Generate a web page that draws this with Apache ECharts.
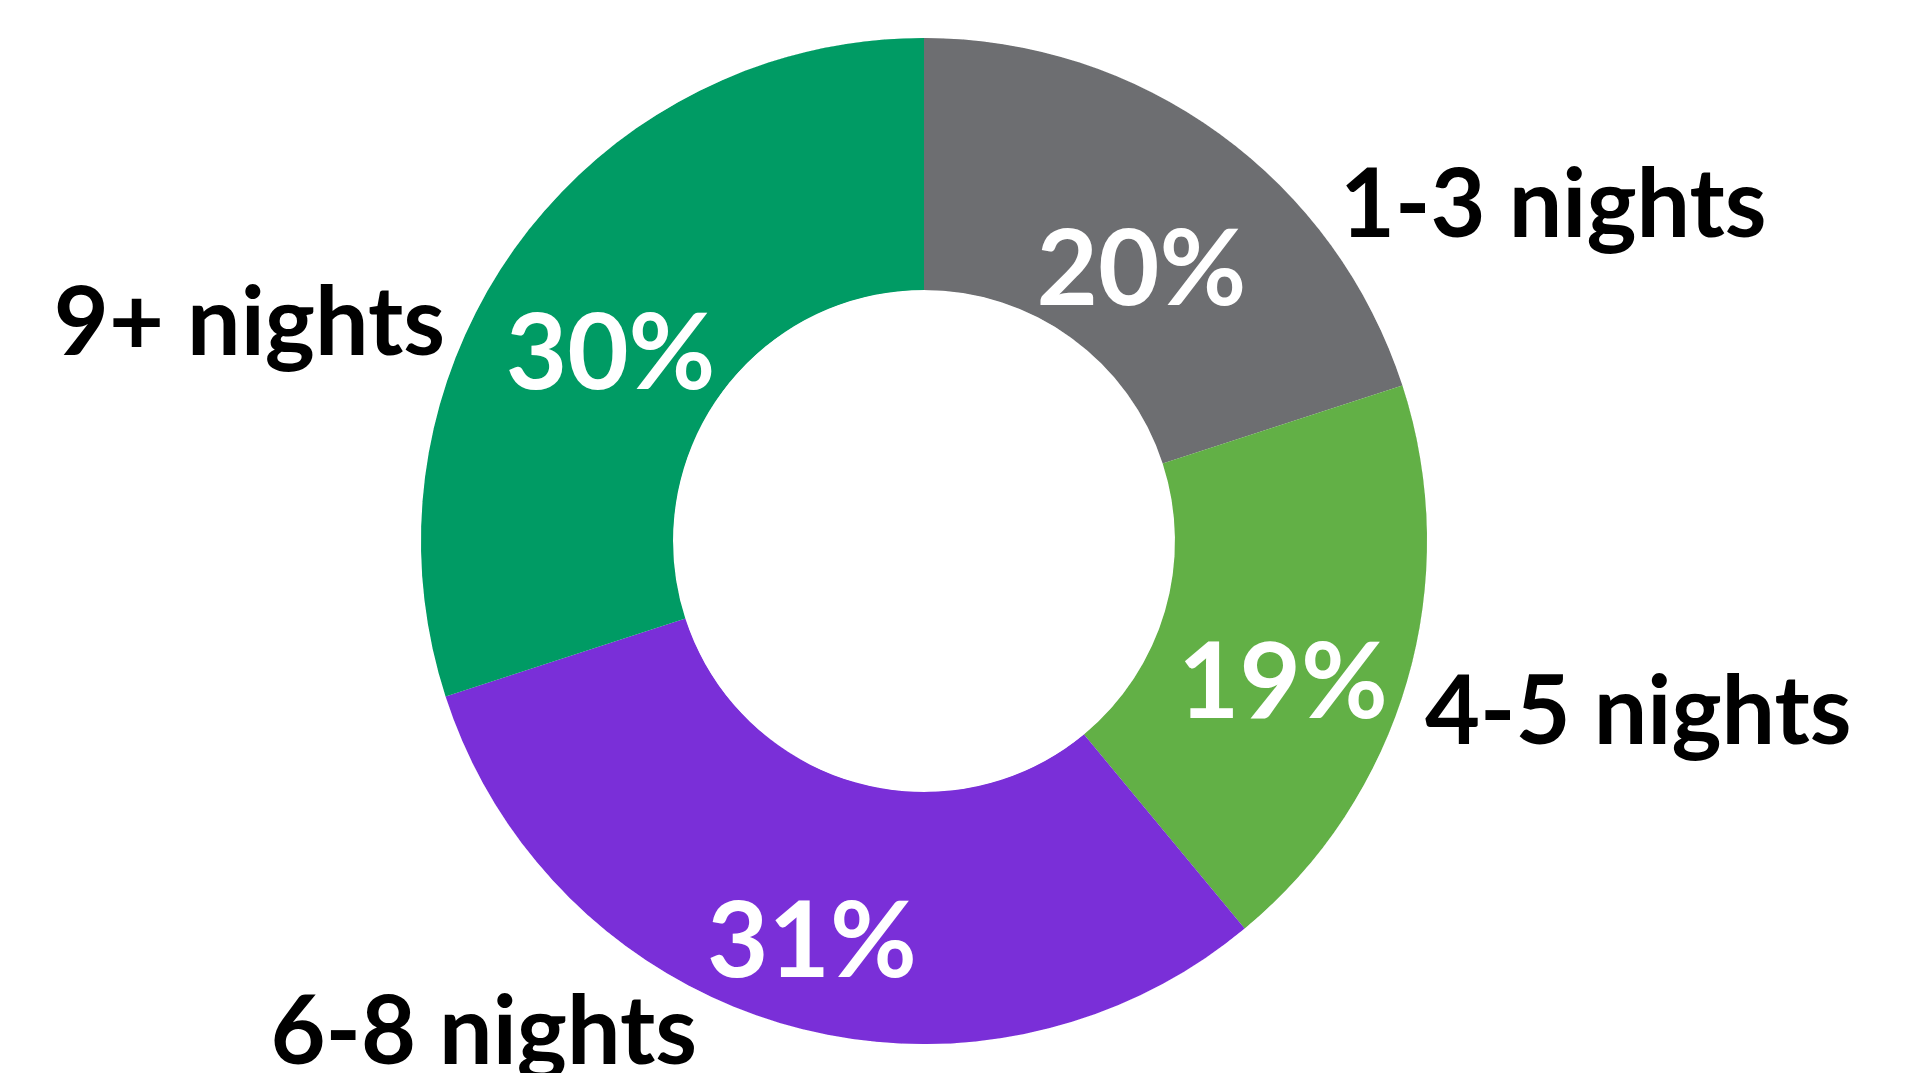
<!DOCTYPE html>
<html>
<head>
<meta charset="utf-8">
<script src="https://cdn.jsdelivr.net/npm/echarts@6/dist/echarts.min.js"></script>
<style>
  html, body { margin: 0; padding: 0; background: #fff; }
  #chart { width: 1921px; height: 1073px; }
</style>
</head>
<body>
<div id="chart"></div>
<script>
const categories = ['1-3 nights', '4-5 nights', '6-8 nights', '9+ nights'];
const shares = [20, 19, 31, 30];
const colors = ['#6d6e71', '#62b046', '#7a2fd8', '#009b64'];

// where the category names sit (x, y, align)
const namePos = [
  [1340, 206, 'left'],
  [1425, 713, 'left'],
  [697, 1033, 'right'],
  [445, 324, 'right']
];

const chart = echarts.init(document.getElementById('chart'));
const data = categories.map((name, i) => ({
  name,
  value: shares[i],
  itemStyle: { color: colors[i] }
}));

const base = {
  type: 'pie',
  center: [924, 541],
  radius: [251, 503],
  startAngle: 90,
  clockwise: true,
  silent: true,
  animation: false,
  labelLine: { show: false },
  itemStyle: { borderColor: '#ffffff', borderWidth: 1 },
  data
};

chart.setOption({
  backgroundColor: '#ffffff',
  series: [
    Object.assign({}, base, {
      label: {
        position: 'inside',
        formatter: '{c}%',
        color: '#ffffff',
        fontFamily: 'Lato',
        fontWeight: 'bold',
        fontSize: 106
      },
      labelLayout: () => ({ dx: -6, dy: 37 })
    }),
    Object.assign({}, base, {
      itemStyle: { color: 'transparent', borderWidth: 0 },
      label: {
        position: 'outside',
        formatter: '{b}',
        color: '#000000',
        fontFamily: 'Lato',
        fontWeight: 'bold',
        fontSize: 95
      },
      labelLayout: (p) => {
        const pos = namePos[p.dataIndex];
        return { x: pos[0], y: pos[1], align: pos[2], verticalAlign: 'middle' };
      }
    })
  ]
});
</script>
</body>
</html>
